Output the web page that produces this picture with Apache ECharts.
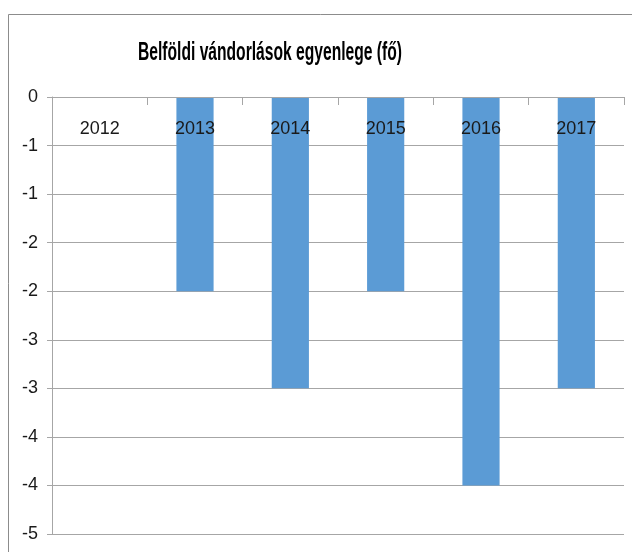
<!DOCTYPE html>
<html>
<head>
<meta charset="utf-8">
<script src="https://cdn.jsdelivr.net/npm/echarts@6/dist/echarts.min.js"></script>
<style>
  html, body { margin: 0; padding: 0; background: #fff; }
  #main { width: 632px; height: 552px; }
</style>
</head>
<body>
<div id="main"></div>
<script>
// adatok
var years = ['2012', '2013', '2014', '2015', '2016', '2017'];
var balance = [0, -2, -3, -2, -4, -3];
var yMin = -4.5, yMax = 0, yStep = 0.5;
var titleText = 'Belföldi vándorlások egyenlege (fő)';

var font = '"Liberation Sans", Arial, sans-serif';

// Excel-like "0" number format: round half away from zero
function fmt(v) {
  var r = Math.round(Math.abs(v) + 1e-9);
  return r === 0 ? '0' : (v < 0 ? '-' : '') + r;
}

// the title in the original is a condensed font, squeeze it to fit
var titleSize = 26, titleWidth = 264;
var ctx = document.createElement('canvas').getContext('2d');
ctx.font = 'bold ' + titleSize + 'px ' + font;
var titleScale = titleWidth / ctx.measureText(titleText).width;

var myChart = echarts.init(document.getElementById('main'));
var option = {
  backgroundColor: '#fff',
  animation: false,
  graphic: [{
    type: 'rect',
    shape: { x: 8.5, y: 14.5, width: 700, height: 700 },
    style: { fill: 'none', stroke: '#8c8c8c', lineWidth: 1 },
    silent: true
  }, {
    type: 'text',
    x: 270,
    y: 53,
    scaleX: titleScale,
    style: {
      text: titleText,
      fill: '#000',
      font: 'bold ' + titleSize + 'px ' + font,
      align: 'center',
      verticalAlign: 'middle'
    },
    silent: true
  }],
  grid: { left: 52, right: 8, top: 97, bottom: 18, outerBoundsMode: 'none' },
  xAxis: {
    type: 'category',
    position: 'top',
    data: years,
    axisLine: { lineStyle: { color: '#a6a6a6' } },
    axisTick: { show: true, inside: true, length: 8, lineStyle: { color: '#a6a6a6' } },
    axisLabel: { inside: true, margin: 23, fontFamily: font, fontSize: 18, color: '#1a1a1a' },
    z: 10
  },
  yAxis: {
    type: 'value',
    min: yMin,
    max: yMax,
    interval: yStep,
    axisLine: { show: true, lineStyle: { color: '#a6a6a6' } },
    axisTick: { show: true, length: 5, lineStyle: { color: '#a6a6a6' } },
    axisLabel: { margin: 14, fontFamily: font, fontSize: 18, color: '#1a1a1a', formatter: fmt },
    splitLine: { lineStyle: { color: '#a6a6a6', width: 1 } }
  },
  series: [{
    type: 'bar',
    data: balance,
    barWidth: '39%',
    itemStyle: { color: '#5b9bd5' },
    z: 2
  }]
};
myChart.setOption(option);
</script>
</body>
</html>
